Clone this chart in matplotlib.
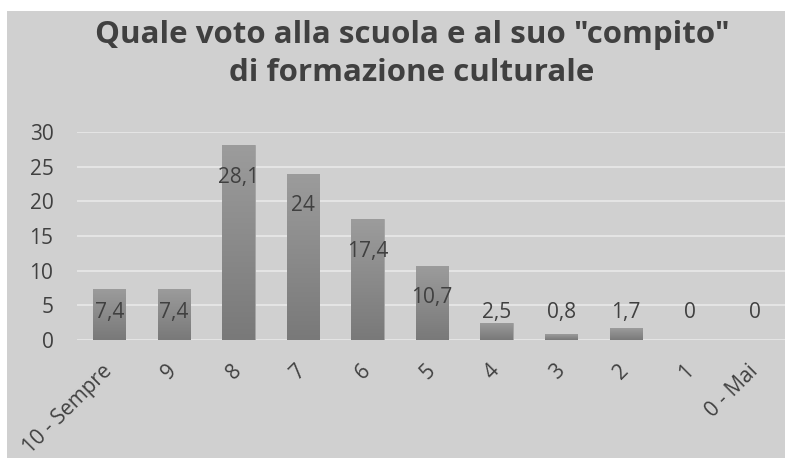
import matplotlib
matplotlib.use('Agg')
import matplotlib.pyplot as plt
import numpy as np
from matplotlib import rcParams
from matplotlib.colors import LinearSegmentedColormap

rcParams['font.family'] = ['Open Sans', 'DejaVu Sans']

TITLE = 'Quale voto alla scuola e al suo "compito"\ndi formazione culturale'
CATEGORIES = ['10 - Sempre', '9', '8', '7', '6', '5', '4', '3', '2', '1', '0 - Mai']
VALUES = [7.4, 7.4, 28.1, 24, 17.4, 10.7, 2.5, 0.8, 1.7, 0, 0]
YTICKS = [0, 5, 10, 15, 20, 25, 30]

BG = '#d0d0d0'
TXT = '#404040'

fig = plt.figure(figsize=(7.85, 4.58), dpi=100)
fig.patch.set_facecolor('white')
# grey chart area, white strip at top and left
fig.patches.append(plt.Rectangle((7/785, 0), 1, 1 - 11/458, transform=fig.transFigure,
                                 facecolor=BG, edgecolor='none', zorder=-10))

ax = fig.add_axes([77/785, 1 - 340/458, 710/785, (340 - 132)/458])
ax.set_facecolor('none')

x = np.arange(len(CATEGORIES))
bars = ax.bar(x, VALUES, width=0.5, color='#8a8a8a', edgecolor='#a4a4a4', linewidth=0.6, zorder=2)

# vertical gradient in each bar, lighter at top
cmap = LinearSegmentedColormap.from_list('g', ['#9c9c9c', '#797979'])
grad = np.linspace(0, 1, 256).reshape(-1, 1)
for b, v in zip(bars, VALUES):
    if v <= 0:
        continue
    x0 = b.get_x()
    im = ax.imshow(grad, cmap=cmap, aspect='auto', origin='upper',
                   extent=[x0, x0 + b.get_width(), 0, v], zorder=2.5)
    im.set_clip_path(b)

for xi, v in zip(x, VALUES):
    ly = max(v - 4.6, 3.9)
    ax.text(xi, ly, ('%g' % v).replace('.', ','), ha='center', va='center',
            fontsize=15, color=TXT, zorder=4)

ax.set_xlim(-0.5, len(CATEGORIES) - 0.5)
ax.set_ylim(0, 30)
ax.set_yticks(YTICKS)
ax.yaxis.grid(True, color='#e4e4e4', linewidth=1.5, zorder=0)
ax.set_axisbelow(True)
for s in ax.spines.values():
    s.set_visible(False)
ax.tick_params(length=0)
ax.tick_params(axis='y', labelsize=15, labelcolor=TXT, pad=17)
ax.set_xticks(x)
ax.set_xticklabels(CATEGORIES, rotation=45, ha='right', va='center',
                   rotation_mode='anchor', fontsize=15, color=TXT)
ax.tick_params(axis='x', pad=20)

fig.text(412/785, 1 - 54/458, TITLE, ha='center', va='center', fontsize=22.5,
         fontweight='bold', color=TXT, linespacing=1.32)

fig.savefig('out.png', dpi=100, facecolor=fig.get_facecolor())
